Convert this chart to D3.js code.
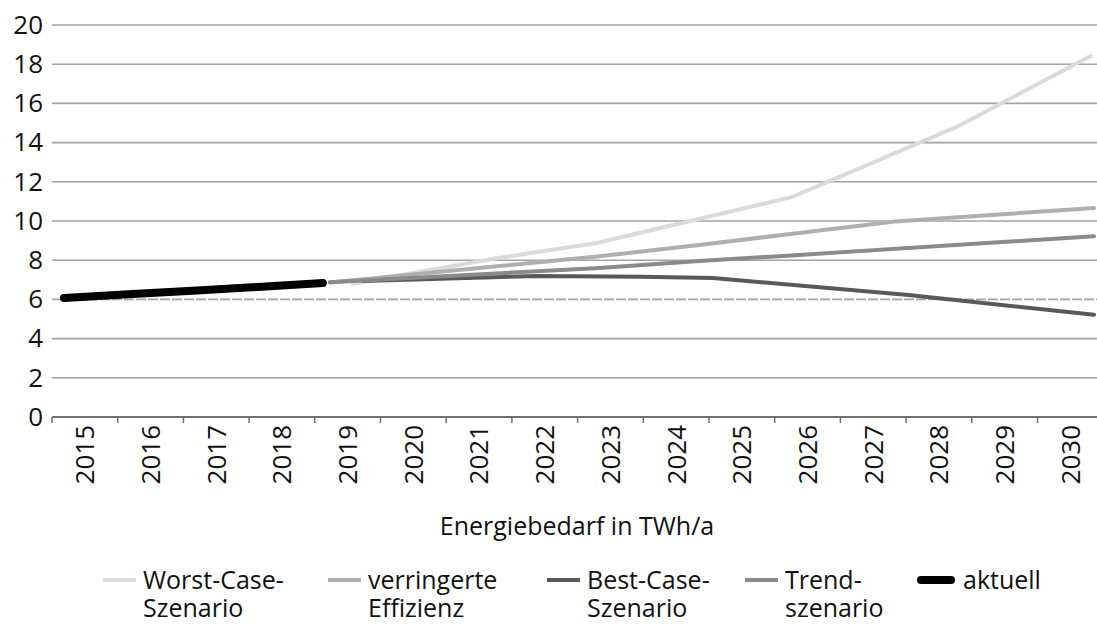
<!DOCTYPE html>
<html>
<head>
<meta charset="utf-8">
<script src="https://cdn.jsdelivr.net/npm/d3@7"></script>
<style>
  body { margin: 0; background: #fff; }
  svg { display: block; font-family: 'Open Sans', sans-serif; }
</style>
</head>
<body>
<svg class="chart"></svg>
<script>
//Global variables
const width = 1097;
const height = 625;

//Tick labels
const years = ['2015', '2016', '2017', '2018', '2019', '2020', '2021', '2022',
  '2023', '2024', '2025', '2026', '2027', '2028', '2029', '2030'];
const yTicks = [0, 2, 4, 6, 8, 10, 12, 14, 16, 18, 20];

//Series values (year, TWh/a)
const worstYears = [2019.2, 2021.3, 2022.76, 2025.6, 2028.0, 2029.95];
const worstValues = [6.8, 8.1, 8.88, 11.22, 14.8, 18.42];

const effizienzYears = [2018.87, 2022.8, 2024.25, 2025.7, 2027.1, 2030];
const effizienzValues = [6.86, 8.2, 8.78, 9.39, 9.97, 10.66];

const bestYears = [2019.35, 2021.9, 2023.4, 2024.45, 2027.3, 2030];
const bestValues = [6.94, 7.2, 7.15, 7.09, 6.22, 5.22];

const trendYears = [2018.87, 2022.8, 2024.25, 2025.7, 2030];
const trendValues = [6.88, 7.6, 7.96, 8.27, 9.22];

const aktuellYears = [2015, 2016, 2017, 2018, 2018.77];
const aktuellValues = [6.07, 6.27, 6.47, 6.67, 6.84];

//Legend
const legendNames = [
  ['Worst-Case-', 'Szenario'],
  ['verringerte', 'Effizienz'],
  ['Best-Case-', 'Szenario'],
  ['Trend-', 'szenario'],
  ['aktuell']
];

const series = [
  { years: worstYears, values: worstValues, color: '#dadada', width: 4 },
  { years: effizienzYears, values: effizienzValues, color: '#afafaf', width: 4 },
  { years: bestYears, values: bestValues, color: '#595959', width: 4 },
  { years: trendYears, values: trendValues, color: '#8a8a8a', width: 4 },
  { years: aktuellYears, values: aktuellValues, color: '#000000', width: 8 }
];

//Layout
const plot = { left: 52, top: 25, bottom: 417 };
const bandWidth = 65.7;

const svg = d3.select('.chart')
  .attr('width', width)
  .attr('height', height);

//Scales
const xBand = d3.scaleBand()
  .domain(years)
  .range([plot.left, plot.left + bandWidth * years.length]);

const xLine = d3.scaleLinear()
  .domain([2015, 2030])
  .range([64, 1094]);

const y = d3.scaleLinear()
  .domain([0, 20])
  .range([plot.bottom, plot.top]);

//Gridlines
svg.append('g')
  .selectAll('line')
  .data(yTicks.filter(d => d > 0))
  .enter()
  .append('line')
  .attr('x1', plot.left)
  .attr('x2', width)
  .attr('y1', d => y(d))
  .attr('y2', d => y(d))
  .attr('stroke', '#a3a3a3')
  .attr('stroke-width', 1.6)
  .attr('stroke-dasharray', d => (d === 6 ? '10,2' : null));

//Y axis labels
const yAxis = d3.axisLeft(y)
  .tickValues(yTicks)
  .tickSize(0)
  .tickPadding(9);
const yg = svg.append('g')
  .attr('transform', `translate(${plot.left},0)`)
  .call(yAxis);
yg.select('.domain').remove();
yg.selectAll('text')
  .attr('font-size', 26)
  .attr('font-family', 'Open Sans, sans-serif')
  .attr('fill', '#111');

//X axis
const xAxis = d3.axisBottom(xBand).tickSize(0).tickPadding(0);
const xg = svg.append('g')
  .attr('transform', `translate(0,${plot.bottom})`)
  .call(xAxis);
xg.select('.domain')
  .attr('d', `M${plot.left},0H${width}`)
  .attr('stroke', '#6f6f6f')
  .attr('stroke-width', 2);
xg.selectAll('text')
  .attr('font-size', 26)
  .attr('font-family', 'Open Sans, sans-serif')
  .attr('fill', '#111')
  .attr('text-anchor', 'end')
  .attr('transform', 'rotate(-90)')
  .attr('x', -8)
  .attr('y', 0)
  .attr('dy', '0.36em');

//Tick marks between the categories
xg.selectAll('line.sep')
  .data(years)
  .enter()
  .append('line')
  .attr('class', 'sep')
  .attr('x1', d => xBand(d))
  .attr('x2', d => xBand(d))
  .attr('y1', 0)
  .attr('y2', 6)
  .attr('stroke', '#6f6f6f')
  .attr('stroke-width', 1.5);

//Lines
const line = d3.line()
  .x(d => xLine(d[0]))
  .y(d => y(d[1]));

svg.append('g')
  .selectAll('path')
  .data(series)
  .enter()
  .append('path')
  .attr('d', s => line(s.years.map((yr, i) => [yr, s.values[i]])))
  .attr('fill', 'none')
  .attr('stroke', s => s.color)
  .attr('stroke-width', s => s.width)
  .attr('stroke-linejoin', 'round')
  .attr('stroke-linecap', 'round');

//Axis title
svg.append('text')
  .attr('x', 577)
  .attr('y', 535)
  .attr('text-anchor', 'middle')
  .attr('font-size', 25)
  .attr('fill', '#111')
  .text('Energiebedarf in TWh/a');

//Legend
const legendX = [103, 328, 547, 745, 917];
const legendY = 580;
const legend = svg.append('g')
  .selectAll('g')
  .data(series)
  .enter()
  .append('g')
  .attr('transform', (d, i) => `translate(${legendX[i]},${legendY})`);

legend.append('line')
  .attr('x1', (d, i) => (i === 4 ? 4 : 0))
  .attr('x2', (d, i) => (i === 4 ? 34 : 33))
  .attr('stroke', d => d.color)
  .attr('stroke-width', d => d.width)
  .attr('stroke-linecap', (d, i) => (i === 4 ? 'round' : 'butt'));

legend.append('text')
  .attr('x', (d, i) => (i === 4 ? 46 : 40))
  .attr('y', 9)
  .attr('font-size', 25)
  .attr('fill', '#111')
  .selectAll('tspan')
  .data((d, i) => legendNames[i])
  .enter()
  .append('tspan')
  .attr('x', function() { return this.parentNode.getAttribute('x'); })
  .attr('dy', (d, i) => (i === 0 ? 0 : 28))
  .text(d => d);
</script>
</body>
</html>
